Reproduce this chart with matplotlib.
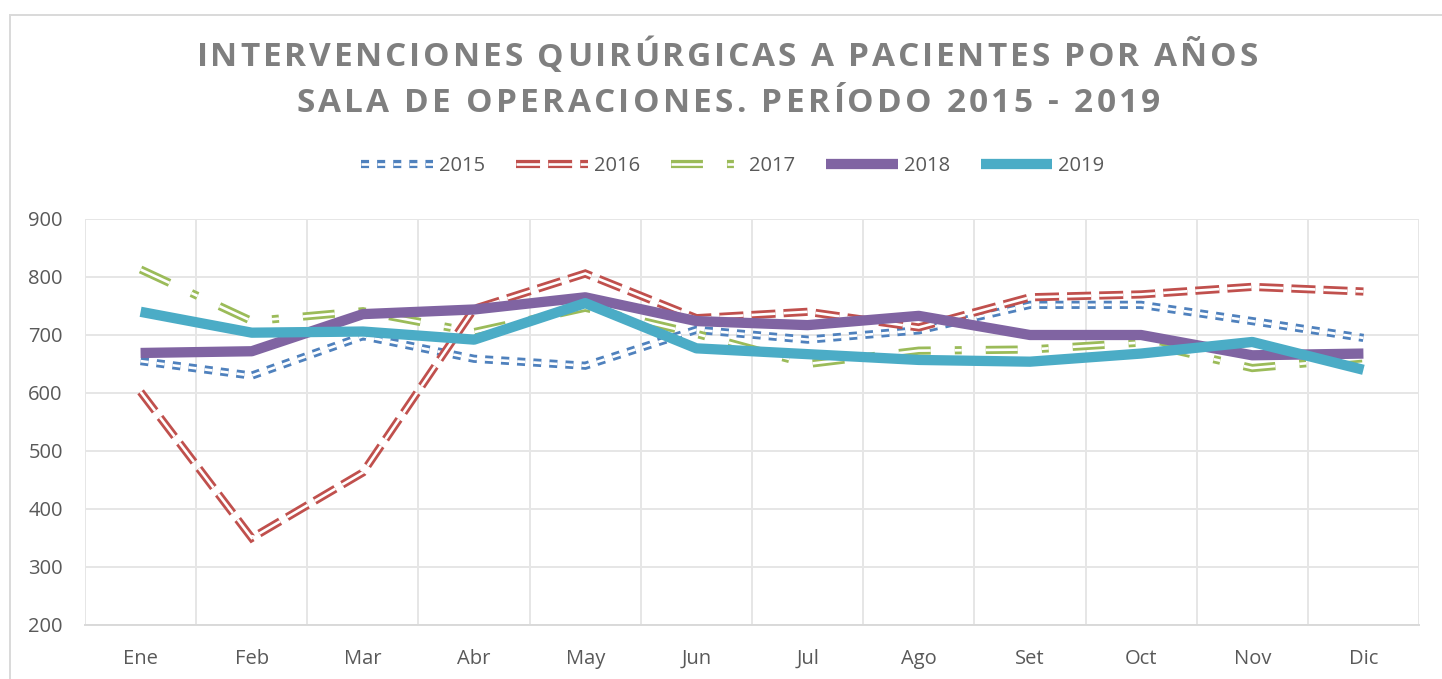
import matplotlib
matplotlib.use("Agg")
import matplotlib.pyplot as plt
import numpy as np
from matplotlib.font_manager import FontProperties, findfont, get_font
from matplotlib.legend_handler import HandlerTuple
from matplotlib.lines import Line2D
from matplotlib.patches import Rectangle

plt.rcParams["lines.scale_dashes"] = False
plt.rcParams["font.family"] = ["Open Sans", "DejaVu Sans"]

months = ["Ene", "Feb", "Mar", "Abr", "May", "Jun",
          "Jul", "Ago", "Set", "Oct", "Nov", "Dic"]
y2015 = [655, 630, 698, 659, 647, 709, 692, 708, 752, 752, 724, 695]
y2016 = [602, 350, 463, 745, 806, 729, 740, 713, 765, 770, 783, 775]
y2017 = [813, 724, 741, 705, 747, 702, 650, 673, 675, 687, 643, 660]
y2018 = [669, 672, 736, 744, 765, 724, 717, 733, 700, 700, 665, 668]
y2019 = [740, 704, 706, 692, 755, 677, 667, 657, 654, 668, 688, 640]
years = ["2015", "2016", "2017", "2018", "2019"]

BLUE, RED, GREEN = "#4F81BD", "#C0504D", "#9BBB59"
PURPLE, AQUA = "#8064A2", "#4BACC6"
GRID = "#e6e6e6"
TEXT = "#595959"
TITLE = "#7f7f7f"

# double ("compound") dashed lines: colored stroke with a white core
DOUBLE_STYLES = {
    "2015": (BLUE, (0, (5.8, 5.8))),
    "2016": (RED, (0, (17.3, 5.8))),
    "2017": (GREEN, (0, (23.0, 17.3, 5.0, 17.3))),
}
OUTER_LW, INNER_LW, THICK_LW = 5.9, 1.9, 7.4


def double_line(ax, x, y, color, dashes, zorder):
    kw = dict(linestyle=dashes, dash_capstyle="butt", dash_joinstyle="miter")
    outer, = ax.plot(x, y, color=color, lw=OUTER_LW, zorder=zorder, **kw)
    inner, = ax.plot(x, y, color="white", lw=INNER_LW, zorder=zorder + 0.1, **kw)
    return outer, inner


def spaced_title(fig, text, x_center, y_px, size, target_width):
    prop = FontProperties(family="Open Sans", weight="bold", size=size)
    font = get_font(findfont(prop))
    font.set_size(size, fig.dpi)
    adv = [font.load_char(ord(ch)).linearHoriAdvance / 65536 for ch in text]
    tracking = (target_width - sum(adv)) / (len(text) - 1)
    x = x_center - target_width / 2
    W, H = fig.get_size_inches() * fig.dpi
    for ch, a in zip(text, adv):
        fig.text(x / W, 1 - y_px / H, ch, fontproperties=prop, color=TITLE,
                 ha="left", va="center")
        x += a + tracking


fig = plt.figure(figsize=(14.42, 6.79), dpi=100)
W, H = 1442, 679
ax = fig.add_axes([85 / W, 1 - 625 / H, (1419 - 85) / W, (625 - 219) / H])

x = np.arange(len(months))
ax.set_xlim(-0.5, len(months) - 0.5)
ax.set_ylim(200, 900)

handles = []
for i, (name, vals) in enumerate(zip(years[:3], [y2015, y2016, y2017])):
    color, dashes = DOUBLE_STYLES[name]
    double_line(ax, x, vals, color, dashes, zorder=3 + i)
    handles.append((
        Line2D([], [], color=color, lw=OUTER_LW, linestyle=dashes, dash_capstyle="butt"),
        Line2D([], [], color="white", lw=INNER_LW, linestyle=dashes, dash_capstyle="butt"),
    ))
solid = dict(lw=THICK_LW, solid_joinstyle="round", solid_capstyle="butt")
ax.plot(x, y2018, color=PURPLE, zorder=7, **solid)
ax.plot(x, y2019, color=AQUA, zorder=8, **solid)
handles.append(Line2D([], [], color=PURPLE, **solid))
handles.append(Line2D([], [], color=AQUA, **solid))

ax.set_yticks(np.arange(200, 901, 100))
ax.set_xticks(x)
ax.set_xticklabels(months)
ax.set_xticks(np.arange(-0.5, len(months), 1.0), minor=True)
ax.grid(axis="y", which="major", color=GRID, lw=1.4, zorder=0)
ax.grid(axis="x", which="minor", color=GRID, lw=1.4, zorder=0)
ax.tick_params(which="both", length=0, labelsize=14.5, labelcolor=TEXT)
ax.tick_params(axis="y", pad=16)
ax.tick_params(axis="x", pad=17)
for side in ["top", "left", "right"]:
    ax.spines[side].set_visible(False)
ax.spines["bottom"].set_color("#d9d9d9")
ax.spines["bottom"].set_linewidth(1.4)
ax.set_axisbelow(True)

leg = fig.legend(
    handles, years,
    handler_map={tuple: HandlerTuple(ndivide=1, pad=0)},
    loc="center", bbox_to_anchor=(733 / W, 1 - 166 / H),
    ncol=5, frameon=False, fontsize=14.5, handlelength=3.55,
    handletextpad=0.3, columnspacing=1.55,
)
for t in leg.get_texts():
    t.set_color(TEXT)

spaced_title(fig, "INTERVENCIONES QUIRÚRGICAS A PACIENTES POR AÑOS", 727, 58, 24, 1061)
spaced_title(fig, "SALA DE OPERACIONES. PERÍODO 2015 - 2019", 728, 103, 24, 864)

fig.patches.append(Rectangle((9.5 / W, -0.05), 1.0, 1 - 14.5 / H + 0.05,
                             transform=fig.transFigure, fill=False,
                             edgecolor="#d9d9d9", lw=1.4))

fig.savefig("out.png", dpi=100)
